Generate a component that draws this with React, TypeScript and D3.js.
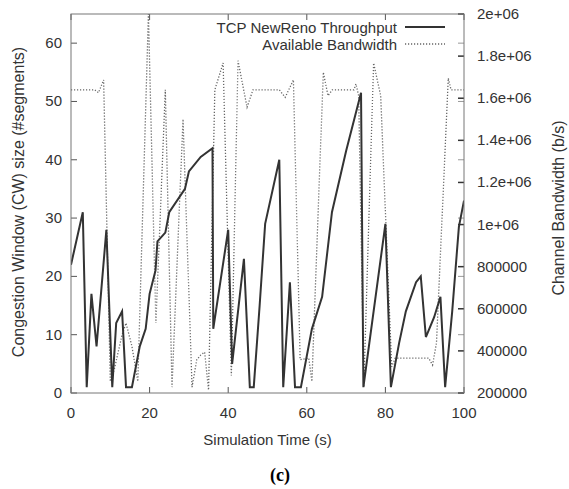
import React from 'react'
import * as d3 from 'd3'

const W = 569
const H = 489
const margin = { top: 14, right: 105, bottom: 96, left: 71 }
const plotW = W - margin.left - margin.right
const plotH = H - margin.top - margin.bottom

// TCP NewReno congestion window (segments) over time (s)
const tcpTime = [0, 3, 4, 5.2, 6.5, 9, 10.5, 11.5, 13, 14, 15.5, 17.5, 19, 20, 21.5, 22, 24, 25, 29, 30, 33, 36, 36.2, 40, 41, 44, 45.5, 46.5, 48, 49.4, 53, 54, 55.7, 57, 58.5, 61.3, 63.9, 66.4, 70, 73.8, 74.4, 80, 81.4, 83.5, 85.2, 87.8, 89, 90.3, 92.4, 94, 95.2, 97, 98.7, 100]
const tcpCwnd = [22, 31, 1, 17, 8, 28, 1, 12, 14, 1, 1, 8, 11, 17, 21, 26, 27.5, 31, 35, 38, 40.5, 42, 11, 28, 5, 23, 1, 1, 15, 29, 40, 1, 19, 1, 1, 11, 16.5, 31, 41.5, 51.5, 1, 29, 1, 8.6, 14, 19, 20, 9.6, 13, 16.5, 1, 14, 28.5, 33]

// available channel bandwidth (b/s)
const bwTime = [0, 6, 7, 8.3, 10, 11, 12, 13, 14, 15.5, 17, 19.7, 21.6, 24, 25.7, 28.5, 30.8, 32, 33, 34, 35, 36.6, 38.7, 40.8, 42.5, 44.8, 46.3, 53, 54.5, 56.6, 58.3, 60.5, 61.3, 64.2, 65.4, 66.5, 72, 72.5, 73.2, 74.5, 77, 78.8, 81.6, 82.5, 91, 92, 93, 96, 96.7, 100]
const bwRate = [1640000, 1640000, 1626000, 1687000, 255000, 311000, 394000, 477000, 532000, 422000, 255000, 2000000, 532000, 1640000, 228000, 1501000, 228000, 358000, 380000, 394000, 214000, 1640000, 1767000, 283000, 1778000, 1557000, 1640000, 1640000, 1604000, 1687000, 358000, 366000, 255000, 1723000, 1612000, 1640000, 1640000, 1668000, 1612000, 228000, 1767000, 1612000, 325000, 366000, 366000, 333000, 438000, 1695000, 1640000, 1640000]

const xTicks = [0, 20, 40, 60, 80, 100]
const yTicks = [0, 10, 20, 30, 40, 50, 60]
const y2Ticks = [200000, 400000, 600000, 800000, 1000000, 1200000, 1400000, 1600000, 1800000, 2000000]
const y2Labels = ['200000', '400000', '600000', '800000', '1e+06', '1.2e+06', '1.4e+06', '1.6e+06', '1.8e+06', '2e+06']

const font = "'Liberation Sans', Arial, sans-serif"
const ink = '#333'
const tick = 6
const fs = 15

export default function App() {
  const x = d3.scaleLinear().domain([0, 100]).range([0, plotW])
  const y = d3.scaleLinear().domain([0, 65]).range([plotH, 0])
  const y2 = d3.scaleLinear().domain([200000, 2000000]).range([plotH, 0])

  const tcp = tcpTime.map((t, i) => [t, tcpCwnd[i]])
  const bw = bwTime.map((t, i) => [t, bwRate[i]])

  const tcpLine = d3.line<number[]>().x(d => x(d[0])).y(d => y(d[1]))(tcp) || ''
  const bwLine = d3.line<number[]>().x(d => x(d[0])).y(d => y2(d[1]))(bw) || ''

  return (
    <svg width={W} height={H} style={{ position: 'absolute', left: 0, top: 0, background: '#fff' }} fontFamily={font}>
      <g transform={`translate(${margin.left},${margin.top})`}>
        <defs>
          <clipPath id="plot">
            <rect x={0} y={0} width={plotW} height={plotH} />
          </clipPath>
        </defs>

        {/* ticks */}
        {xTicks.map(t => (
          <g key={'x' + t}>
            <line x1={x(t)} x2={x(t)} y1={plotH} y2={plotH - tick} stroke="#555" />
            <line x1={x(t)} x2={x(t)} y1={0} y2={tick} stroke="#555" />
            <text x={x(t)} y={plotH + 25} textAnchor="middle" fontSize={fs} fill={ink}>{t}</text>
          </g>
        ))}
        {yTicks.map(t => (
          <g key={'y' + t}>
            <line x1={0} x2={tick} y1={y(t)} y2={y(t)} stroke="#555" />
            <line x1={plotW} x2={plotW - tick} y1={y(t)} y2={y(t)} stroke="#999" />
            <text x={-9} y={y(t) + 5} textAnchor="end" fontSize={fs} fill={ink}>{t}</text>
          </g>
        ))}
        {y2Ticks.map((t, i) => (
          <g key={'y2' + t}>
            <line x1={plotW} x2={plotW - tick} y1={y2(t)} y2={y2(t)} stroke="#333" strokeWidth={1.5} />
            <text x={plotW + 13} y={y2(t) + 5} fontSize={fs} fill={ink}>{y2Labels[i]}</text>
          </g>
        ))}

        <g clipPath="url(#plot)">
          <path d={bwLine} fill="none" stroke="#666" strokeWidth={1.3} strokeDasharray="1.2,1.8" />
          <path d={tcpLine} fill="none" stroke="#333" strokeWidth={2} strokeLinejoin="miter" />
        </g>

        <rect x={0} y={0} width={plotW} height={plotH} fill="none" stroke="#777" strokeWidth={1} />

        {/* legend */}
        <text x={326} y={18.5} textAnchor="end" fontSize={fs} fill={ink}>TCP NewReno Throughput</text>
        <line x1={334} x2={374} y1={13} y2={13} stroke="#333" strokeWidth={2} />
        <text x={326} y={35.5} textAnchor="end" fontSize={fs} fill={ink}>Available Bandwidth</text>
        <line x1={334} x2={374} y1={30} y2={30} stroke="#666" strokeWidth={1.3} strokeDasharray="1.2,1.8" />

        {/* axis titles */}
        <text x={plotW / 2} y={plotH + 52} textAnchor="middle" fontSize={fs} fill={ink}>Simulation Time (s)</text>
      </g>
      <text transform="translate(24,202) rotate(-90)" textAnchor="middle" fontSize={16} fill={ink}>Congestion Window (CW) size (#segments)</text>
      <text transform="translate(564,208) rotate(-90)" textAnchor="middle" fontSize={16} fill={ink}>Channel Bandwidth (b/s)</text>
      <text x={280} y={481} textAnchor="middle" fontSize={18} fontWeight="bold" fontFamily="'Liberation Serif', 'Times New Roman', serif" fill="#000">(c)</text>
    </svg>
  )
}
